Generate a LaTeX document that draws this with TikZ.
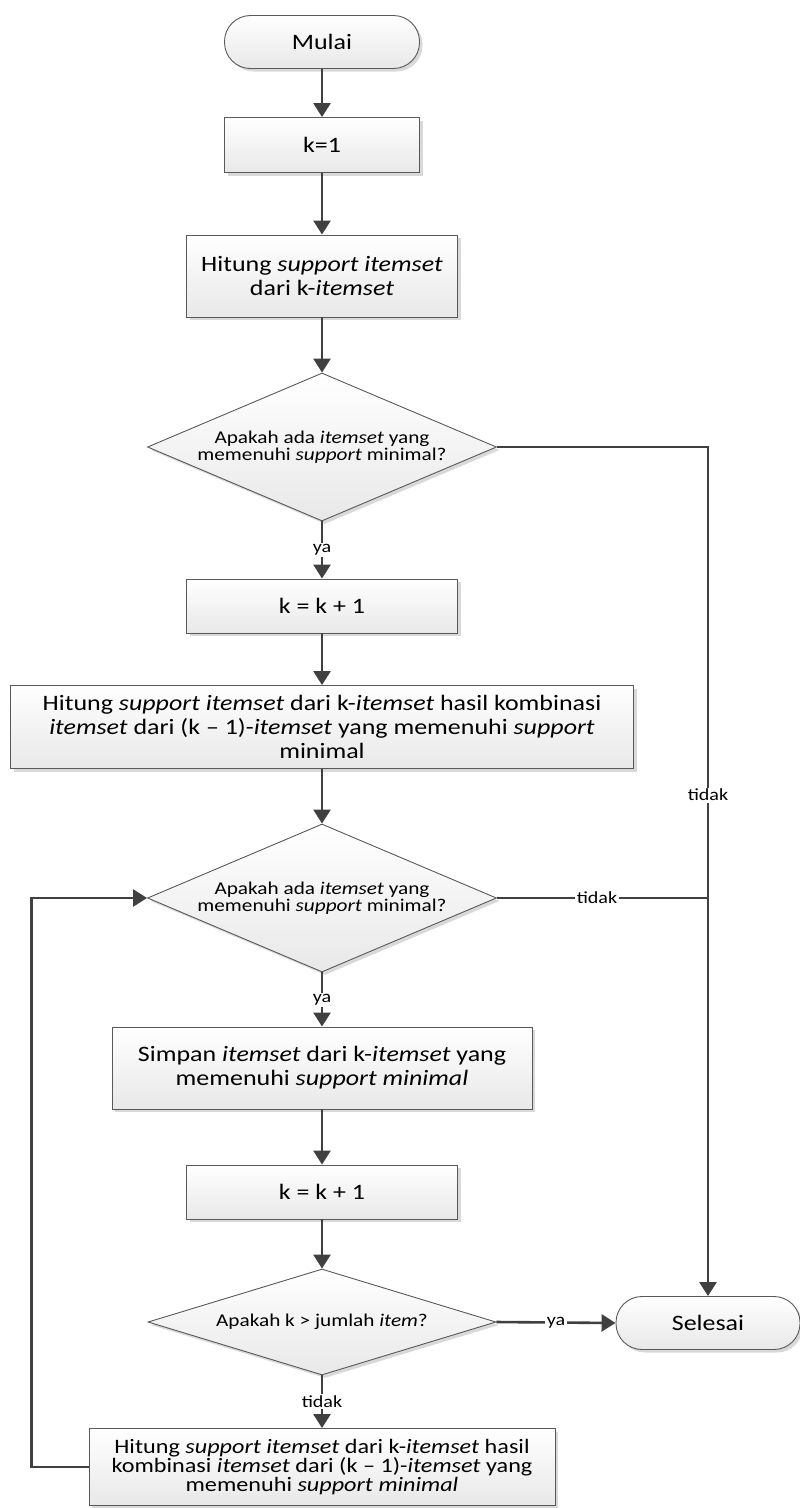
\documentclass[tikz,border=0pt]{standalone}
\usepackage{fontspec}
\setmainfont{Carlito}[FakeStretch=1.18]
\usetikzlibrary{shapes.geometric,arrows.meta,shadows}
\begin{document}
\begin{tikzpicture}[x=1pt,y=-1pt,
  base/.style={draw=black!65, line width=0.9pt, top color=white, bottom color=black!9,
    drop shadow={shadow xshift=3pt, shadow yshift=-3pt, fill=black!25, opacity=0.6},
    align=center, inner sep=0pt},
  term/.style={base, rounded corners=26pt, minimum height=53pt, font=\fontsize{22}{24}\selectfont},
  proc/.style={base, minimum height=54pt, font=\fontsize{22}{24}\selectfont},
  dec/.style={base, diamond, aspect=2.36, minimum width=349pt, minimum height=148pt, font=\fontsize{18}{17.5}\selectfont},
  flow/.style={draw=black!75, line width=2.6pt, -{Triangle[length=14pt,width=17pt]}},
  link/.style={draw=black!75, line width=2.2pt},
  lab/.style={fill=white, inner sep=1.5pt, font=\fontsize{17}{17}\selectfont, text=black}
]
\useasboundingbox (0,0) rectangle (800,1508);

\node[term, minimum width=195pt] (start) at (322,42) {Mulai};
\node[proc, minimum width=195pt, minimum height=55pt] (k1) at (322,145) {k=1};
\node[proc, minimum width=271pt, minimum height=82pt] (hit1) at (322,276) {Hitung \textit{support itemset}\\dari k-\textit{itemset}};
\node[dec] (d1) at (322,447) {Apakah ada \textit{itemset} yang\\memenuhi \textit{support} minimal?};
\node[proc, minimum width=271pt] (kk1) at (322,606) {k = k + 1};
\node[proc, minimum width=623pt, minimum height=83pt] (hit2) at (322,727) {Hitung \textit{support itemset} dari k-\textit{itemset} hasil kombinasi\\\textit{itemset} dari (k – 1)-\textit{itemset} yang memenuhi \textit{support}\\minimal};
\node[dec] (d2) at (322,898) {Apakah ada \textit{itemset} yang\\memenuhi \textit{support} minimal?};
\node[proc, minimum width=420pt, minimum height=82pt] (simpan) at (322,1068) {Simpan \textit{itemset} dari k-\textit{itemset} yang\\memenuhi \textit{support minimal}};
\node[proc, minimum width=271pt] (kk2) at (322,1192) {k = k + 1};
\node[dec, aspect=3.28, minimum width=348pt, minimum height=106pt] (d3) at (322,1322) {Apakah k > jumlah \textit{item}?};
\node[term, minimum width=184pt] (stop) at (708,1323) {Selesai};
\node[proc, minimum width=466pt, minimum height=77pt, font=\fontsize{20.5}{17.5}\selectfont] (hit3) at (322,1467) {Hitung \textit{support itemset} dari k-\textit{itemset} hasil\\kombinasi \textit{itemset} dari (k – 1)-\textit{itemset} yang\\memenuhi \textit{support minimal}};

\draw[flow] (start) -- (k1);
\draw[flow] (k1) -- (hit1);
\draw[flow] (hit1) -- (d1);
\draw[flow] (d1) -- node[lab]{ya} (kk1);
\draw[flow] (kk1) -- (hit2);
\draw[flow] (hit2) -- (d2);
\draw[flow] (d2) -- node[lab]{ya} (simpan);
\draw[flow] (simpan) -- (kk2);
\draw[flow] (kk2) -- (d3);
\draw[flow] (d3) -- node[lab]{tidak} (hit3);
\draw[flow] (d3.east) -- node[lab]{ya} (stop.west);
\draw[flow] (d1.east) -| node[lab, pos=0.705]{tidak} (stop.north);
\coordinate (j2) at (d2.east -| stop.north);
\draw[link] (d2.east) -- node[lab, pos=0.474]{tidak} (j2);
\draw[flow] (hit3.west) -- ++(-57,0) |- (d2.west);
\end{tikzpicture}
\end{document}
